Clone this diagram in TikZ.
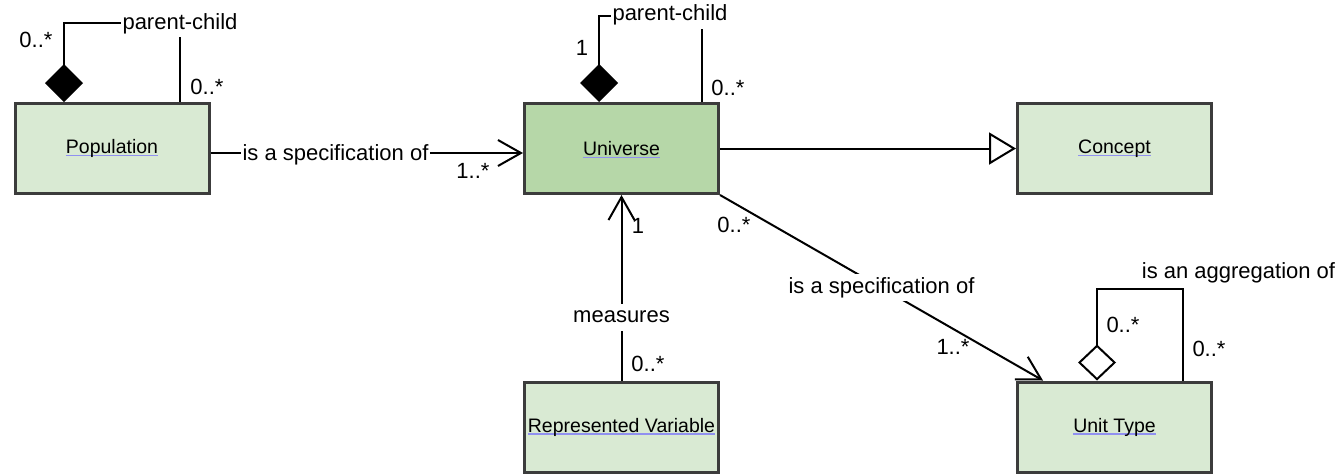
\documentclass[tikz,border=0pt]{standalone}
\usepackage{fontspec}
\setmainfont{Liberation Sans}
\usepackage{xcolor}
\usepackage{tikz}
\usetikzlibrary{arrows.meta}
\definecolor{classfill}{HTML}{D9EAD3}
\definecolor{corefill}{HTML}{B6D7A8}
\definecolor{classline}{HTML}{3C3C3C}
\definecolor{linkblue}{HTML}{9090F0}
\newsavebox{\linkbox}
\newcommand{\linkul}[1]{\sbox{\linkbox}{#1}\rlap{\smash{\textcolor{linkblue}{\rule[-2.5pt]{\wd\linkbox}{1.2pt}}}}\usebox{\linkbox}}

\begin{document}
\begin{tikzpicture}[x=1pt, y=-1pt,
  cls/.style={draw=classline, line width=3pt, fill=classfill, minimum width=194pt, minimum height=90pt, font=\fontsize{19.5}{23}\selectfont},
  lbl/.style={font=\fontsize{22}{26}\selectfont, fill=white, inner xsep=2pt, inner ysep=3pt, text height=16pt, text depth=5pt},
  mult/.style={font=\fontsize{22}{26}\selectfont, inner sep=0pt},
  conn/.style={line width=2pt}]
  \useasboundingbox (0,0) rectangle (1341,475);
  % classes
  \node[cls] (pop) at (112,148.5) {\linkul{Population}};
  \node[cls, fill=corefill] (uni) at (621.5,148.5) {\linkul{Universe}};
  \node[cls] (con) at (1114.5,148.5) {\linkul{Concept}};
  \node[cls] (rv) at (621.5,427) {\linkul{Represented Variable}};
  \node[cls] (ut) at (1114.5,427) {\linkul{Unit Type}};
  % associations
  \draw[conn, -{Straight Barb[length=23pt,width=26pt]}] ([yshift=-4.5pt]pop.east) -- ([yshift=-4.5pt]uni.west)
    node[lbl, pos=0.4, yshift=-2pt] (spec1) {is a specification of};
  \draw[conn, -{Triangle[fill=white,length=27pt,width=32pt]}] (uni.east) -- (con.west);
  \draw[conn, -{Straight Barb[length=23pt,width=26pt]}] (rv.north) -- (uni.south)
    node[lbl, pos=0.34] (meas) {measures};
  \draw[conn, -{Straight Barb[length=23pt,width=26pt]}] (uni.south east) -- ([xshift=27pt]ut.north west)
    node[lbl, pos=0.5] (spec2) {is a specification of};
  % self loops
  \draw[conn, {Diamond[length=38pt,width=38pt]}-] ([xshift=-48pt]pop.north) |- ([xshift=68pt,yshift=79pt]pop.north) -- ([xshift=68pt]pop.north);
  \draw[conn, {Diamond[length=38pt,width=38pt]}-] ([xshift=-22.5pt]uni.north) |- ([xshift=80.5pt,yshift=86pt]uni.north) -- ([xshift=80.5pt]uni.north);
  \draw[conn, {Diamond[fill=white,length=36pt,width=38pt]}-] ([xshift=-17.5pt]ut.north) |- ([xshift=68.5pt,yshift=91.5pt]ut.north) -- ([xshift=68.5pt]ut.north);
  \node[lbl] (pcpop) at (180,23.5) {parent-child};
  \node[lbl] (pcuni) at (670,15) {parent-child};
  \node[lbl] (aggut) at (1238.5,273) {is an aggregation of};
  % multiplicities
  \node[mult] (m1) at (36,40) {0..*};
  \node[mult] (m2) at (207,87) {0..*};
  \node[mult] (m3) at (582,48) {1};
  \node[mult] (m4) at (728,88) {0..*};
  \node[mult] (m5) at (473,171) {1..*};
  \node[mult] (m6) at (638,226) {1};
  \node[mult] (m7) at (648,364) {0..*};
  \node[mult] (m8) at (734,225) {0..*};
  \node[mult] (m9) at (953,347) {1..*};
  \node[mult] (m10) at (1123,325) {0..*};
  \node[mult] (m11) at (1209,349) {0..*};
\end{tikzpicture}
\end{document}
